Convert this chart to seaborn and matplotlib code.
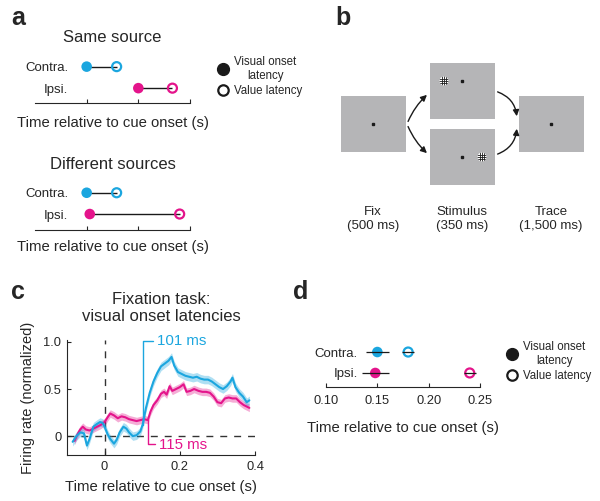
import numpy as np
import pandas as pd
import matplotlib.pyplot as plt
import seaborn as sns
from matplotlib.lines import Line2D
from matplotlib.patches import Rectangle, Circle, FancyArrowPatch

sns.set_theme(style='ticks')
plt.rcParams['font.family'] = ['Liberation Sans', 'DejaVu Sans']
plt.rcParams['axes.linewidth'] = 0.8

CYAN = '#1ba6df'
MAGENTA = '#e4148b'
GREY = '#b5b5b7'

# ---- data ----
rows = ['Contra.', 'Ipsi.']

# panel a (s)
same_onset = [0.150, 0.200]
same_value = [0.179, 0.233]
diff_onset = [0.150, 0.153]
diff_value = [0.179, 0.240]

# panel c: normalized firing rate
t_contra = [-0.085, -0.075, -0.065, -0.055, -0.047, -0.040, -0.030, -0.020, -0.012, -0.005,
            0.000, 0.008, 0.015, 0.025, 0.032, 0.040, 0.050, 0.058, 0.065, 0.075,
            0.085, 0.095, 0.101, 0.110, 0.120, 0.130, 0.140, 0.150, 0.160, 0.170,
            0.178, 0.185, 0.195, 0.205, 0.215, 0.225, 0.235, 0.245, 0.255, 0.265,
            0.275, 0.285, 0.295, 0.305, 0.315, 0.325, 0.335, 0.340, 0.348, 0.358,
            0.368, 0.378, 0.385]
fr_contra = [-0.06, 0.00, 0.04, 0.03, -0.10, -0.03, 0.10, 0.13, 0.15, 0.14,
             0.10, 0.02, -0.03, -0.08, -0.04, 0.04, 0.10, 0.08, 0.04, 0.00,
             0.01, 0.05, 0.12, 0.30, 0.46, 0.58, 0.67, 0.74, 0.77, 0.80,
             0.84, 0.75, 0.68, 0.66, 0.64, 0.63, 0.62, 0.63, 0.61, 0.60,
             0.60, 0.58, 0.55, 0.52, 0.50, 0.53, 0.58, 0.62, 0.52, 0.46,
             0.42, 0.36, 0.38]
t_ipsi = [-0.080, -0.072, -0.065, -0.058, -0.050, -0.040, -0.030, -0.020, -0.010, 0.000,
          0.008, 0.015, 0.025, 0.035, 0.045, 0.055, 0.065, 0.075, 0.085, 0.095,
          0.105, 0.115, 0.122, 0.130, 0.140, 0.150, 0.158, 0.165, 0.173, 0.180,
          0.190, 0.200, 0.210, 0.218, 0.228, 0.238, 0.250, 0.260, 0.270, 0.280,
          0.290, 0.300, 0.310, 0.320, 0.330, 0.340, 0.350, 0.360, 0.370, 0.380,
          0.385]
fr_ipsi = [-0.05, 0.02, 0.07, 0.10, 0.07, 0.06, 0.08, 0.10, 0.12, 0.15,
           0.20, 0.24, 0.22, 0.19, 0.21, 0.20, 0.18, 0.17, 0.16, 0.17,
           0.18, 0.17, 0.26, 0.33, 0.38, 0.45, 0.47, 0.44, 0.53, 0.48,
           0.50, 0.52, 0.55, 0.47, 0.48, 0.50, 0.48, 0.47, 0.47, 0.46,
           0.42, 0.36, 0.35, 0.40, 0.41, 0.40, 0.40, 0.36, 0.33, 0.31,
           0.30]
sem_contra = 0.045
sem_ipsi = 0.04
latency_contra = 0.101
latency_ipsi = 0.115

# panel d (s)
d_onset = [0.150, 0.148]
d_onset_err = [0.011, 0.013]
d_value = [0.180, 0.240]
d_value_err = [0.006, 0.006]

W, H = 600, 501
fig = plt.figure(figsize=(6, 5.01), dpi=100)


def px_axes(left, top, right, bottom):
    return fig.add_axes([left / W, 1 - bottom / H, (right - left) / W, (bottom - top) / H])


def dot_rows(ax, onset, value, onset_err=None, value_err=None):
    df = pd.DataFrame({'row': [0, 1], 'side': rows, 'onset': onset, 'value': value})
    pal = {'Contra.': CYAN, 'Ipsi.': MAGENTA}
    if onset_err is None:
        ax.hlines(df['row'], df['onset'], df['value'], color='k', lw=1, zorder=1)
    sns.scatterplot(data=df, x='onset', y='row', hue='side', palette=pal, s=58,
                    edgecolor='none', legend=False, ax=ax, zorder=2)
    sns.scatterplot(data=df, x='value', y='row', hue='side', palette=pal, s=42,
                    legend=False, ax=ax, zorder=3)
    pts = ax.collections[-1]
    pts.set_edgecolors(pts.get_facecolors().copy())
    pts.set_facecolors('none')
    pts.set_linewidth(1.6)
    if onset_err is not None:
        ax.errorbar(onset, [0, 1], xerr=onset_err, fmt='none', ecolor='k', elinewidth=0.9,
                    capsize=0, zorder=4)
        ax.errorbar(value, [0, 1], xerr=value_err, fmt='none', ecolor='k', elinewidth=0.9,
                    capsize=0, zorder=4)
    ax.set_yticks([0, 1], rows)
    ax.set_ylabel('')
    sns.despine(ax=ax, left=True)
    ax.tick_params(axis='y', length=0, labelsize=9.5)
    ax.tick_params(axis='x', direction='in', length=3, width=0.8)


def legend_dots(ax, anchor):
    handles = [Line2D([], [], marker='o', ls='', color='k', ms=8.5),
               Line2D([], [], marker='o', ls='', mfc='none', mec='k', mew=1.6, ms=7.5)]
    leg = ax.legend(handles, ['Visual onset\nlatency', 'Value latency'], frameon=False,
                    loc='upper left', bbox_to_anchor=(anchor[0] / W, 1 - anchor[1] / H),
                    bbox_transform=fig.transFigure, fontsize=8.3, handlelength=0.8,
                    handletextpad=0.6, labelspacing=0.25, borderaxespad=0, borderpad=0)
    for t in leg.get_texts():
        t.set_multialignment('center')


# ---- panel a ----
ax_a1 = px_axes(35, 52, 190, 103)
dot_rows(ax_a1, same_onset, same_value)
ax_a1.set_xlim(0.10, 0.25)
ax_a1.set_ylim(1.69, -0.68)
ax_a1.set_xticks([0.15, 0.20, 0.25], [])
ax_a1.tick_params(axis='y', pad=-24)
ax_a1.set_title('Same source', fontsize=12, pad=7)
ax_a1.set_xlabel('Time relative to cue onset (s)', fontsize=10.7, labelpad=6)
legend_dots(ax_a1, (218, 56))

ax_a2 = px_axes(35, 177, 190, 230)
dot_rows(ax_a2, diff_onset, diff_value)
ax_a2.set_xlim(0.10, 0.25)
ax_a2.set_ylim(1.75, -0.74)
ax_a2.set_xticks([0.15, 0.20, 0.25], [])
ax_a2.tick_params(axis='y', pad=-24)
ax_a2.set_title('Different sources', fontsize=12, pad=6)
ax_a2.set_xlabel('Time relative to cue onset (s)', fontsize=10.7, labelpad=4)

# ---- panel b (task diagram) ----
ax_b = px_axes(320, 0, 600, 250)
ax_b.set_xlim(320, 600)
ax_b.set_ylim(250, 0)
ax_b.axis('off')
screens = [(341, 96), (430, 63), (430, 129), (519, 96)]
for x0, y0 in screens:
    ax_b.add_patch(Rectangle((x0, y0), 65, 56, color=GREY, lw=0))
for fx, fy in [(373, 124), (462, 81), (462, 157), (551, 124)]:
    ax_b.plot(fx, fy, marker='s', ms=1.8, color='k')
for gx, gy in [(444, 81), (482, 157)]:
    disc = Circle((gx, gy), 4.5, color='white', lw=0)
    ax_b.add_patch(disc)
    for off in (-2.4, 0, 2.4):
        ln1, = ax_b.plot([gx + off, gx + off], [gy - 5, gy + 5], color='k', lw=0.6)
        ln2, = ax_b.plot([gx - 5, gx + 5], [gy + off, gy + off], color='k', lw=0.6)
        ln1.set_clip_path(disc)
        ln2.set_clip_path(disc)
arrows = [((407, 124), (429, 93), -0.12), ((407, 124), (429, 155), 0.12),
          ((495, 91), (517, 119), -0.35), ((495, 155), (517, 126), 0.35)]
for p0, p1, rad in arrows:
    ax_b.add_patch(FancyArrowPatch(p0, p1, connectionstyle=f'arc3,rad={rad}',
                                   arrowstyle='-|>', mutation_scale=9, lw=1, color='k'))
for cx, lab in [(373, 'Fix\n(500 ms)'), (462, 'Stimulus\n(350 ms)'), (551, 'Trace\n(1,500 ms)')]:
    ax_b.text(cx, 219, lab, ha='center', va='center', fontsize=9.5, linespacing=1.25)

# ---- panel c ----
ax_c = px_axes(67, 340, 255, 455)
for t, fr, sem, col in [(t_ipsi, fr_ipsi, sem_ipsi, MAGENTA), (t_contra, fr_contra, sem_contra, CYAN)]:
    t = np.array(t)
    fr = np.array(fr)
    ax_c.fill_between(t, fr - sem, fr + sem, color=col, alpha=0.35, lw=0)
    sns.lineplot(x=t, y=fr, color=col, lw=1.5, ax=ax_c)
ax_c.axvline(0, color='#333333', lw=1, ls=(0, (5, 5)), zorder=0)
ax_c.axhline(0, color='#333333', lw=1, ls=(0, (5, 5)), zorder=0)
ax_c.plot([latency_contra, latency_contra, 0.128], [0.12, 1.01, 1.01], color=CYAN, lw=1)
ax_c.text(0.140, 1.01, f'{round(latency_contra * 1000)} ms', color=CYAN, fontsize=10.8, va='center')
ax_c.plot([latency_ipsi, latency_ipsi, 0.133], [0.17, -0.08, -0.08], color=MAGENTA, lw=1)
ax_c.text(0.146, -0.095, f'{round(latency_ipsi * 1000)} ms', color=MAGENTA, fontsize=10.8, va='center')
ax_c.set_xlim(-0.1, 0.4)
ax_c.set_ylim(-0.2, 1.02)
ax_c.set_xticks([0, 0.2, 0.4], ['0', '0.2', '0.4'])
ax_c.set_yticks([0, 0.5, 1.0], ['0', '0.5', '1.0'])
ax_c.tick_params(direction='in', length=3, width=0.8, labelsize=9.3, pad=4)
sns.despine(ax=ax_c)
ax_c.set_title('Fixation task:\nvisual onset latencies', fontsize=12, pad=14, linespacing=1.15)
ax_c.set_xlabel('Time relative to cue onset (s)', fontsize=10.7, labelpad=5)
ax_c.set_ylabel('Firing rate (normalized)', fontsize=10.5, labelpad=6)

# ---- panel d ----
ax_d = px_axes(326, 338, 480, 387)
dot_rows(ax_d, d_onset, d_value, d_onset_err, d_value_err)
ax_d.set_xlim(0.10, 0.25)
ax_d.set_ylim(1.67, -0.67)
ax_d.set_xticks([0.10, 0.15, 0.20, 0.25], ['0.10', '0.15', '0.20', '0.25'])
ax_d.tick_params(axis='x', labelsize=9.3, pad=6)
ax_d.tick_params(axis='y', pad=-23)
ax_d.set_xlabel('Time relative to cue onset (s)', fontsize=10.7, labelpad=10)
legend_dots(ax_d, (507, 341))

# panel letters
for x, y, s in [(11, 6, 'a'), (335, 6, 'b'), (11, 280, 'c'), (293, 280, 'd')]:
    fig.text(x / W, 1 - y / H, s, fontsize=18, fontweight='bold', ha='left', va='top')

fig.savefig('out.png', dpi=100)
